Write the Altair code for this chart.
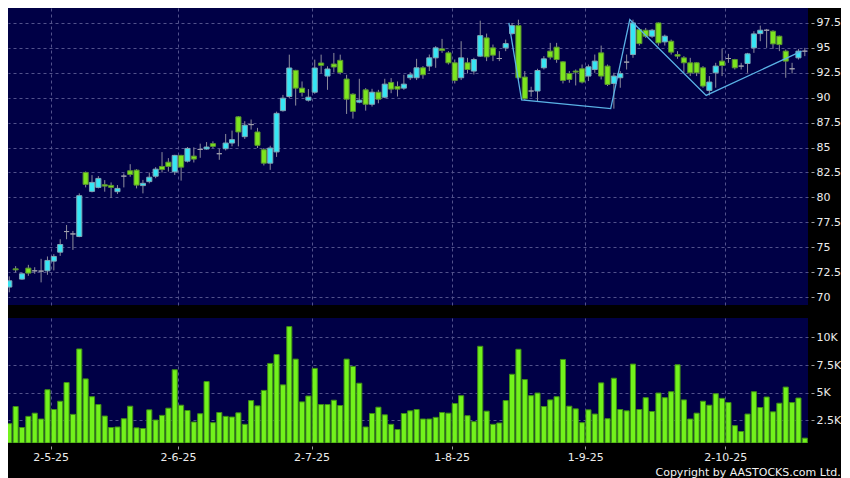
import altair as alt
import pandas as pd

# ---- data (bar index 0..125) ----
opens = [71.0, 72.83, 71.8, 72.9, 72.63, 72.6, 72.63, 73.6, 74.5, 76.57,
         76.33, 76.07, 82.5, 80.6, 81.0, 81.27, 81.2, 80.57, 82.13, 82.67,
         82.73, 81.18, 81.58, 82.12, 83.1, 83.53, 82.56, 84.21, 83.63, 84.14,
         84.81, 84.85, 85.39, 84.38, 84.88, 85.45, 88.08, 86.09, 87.3, 86.56,
         84.78, 83.43, 84.56, 88.7, 90.12, 92.74, 90.96, 89.75, 90.55, 93.48,
         92.17, 93.38, 93.75, 91.87, 90.35, 89.55, 90.79, 89.34, 90.55, 90.05,
         91.53, 91.13, 90.96, 92.0, 92.0, 93.0, 93.17, 94.0, 94.9, 94.5,
         93.5, 92.0, 93.5, 92.67, 94.17, 96.0, 95.0, 93.93, 95.0, 96.43,
         97.23, 92.07, 90.67, 90.67, 93.0, 94.67, 95.07, 93.6, 92.43, 92.67,
         92.9, 92.17, 92.83, 94.5, 93.17, 91.43, 92.0, 93.57, 94.33, 96.83,
         96.77, 96.17, 97.5, 95.6, 95.67, 94.33, 94.0, 93.5, 93.5, 93.0,
         90.73, 92.5, 93.67, 93.93, 93.83, 93.17, 93.43, 95.0, 96.43, 96.77,
         96.67, 96.17, 94.67, 92.9, 94.0, 94.67]
highs = [72.07, 73.1, 72.4, 73.23, 72.99, 73.83, 74.07, 74.3, 75.8, 77.23,
         76.63, 80.4, 82.6, 82.23, 82.13, 81.73, 81.5, 81.23, 82.4, 83.33,
         82.83, 81.75, 82.49, 83.03, 84.54, 83.94, 84.27, 84.27, 85.05, 85.02,
         85.39, 85.55, 85.62, 84.85, 86.36, 86.7, 88.15, 87.64, 87.81, 86.97,
         84.95, 85.18, 88.6, 90.28, 94.32, 92.8, 91.63, 90.86, 93.82, 94.32,
         93.15, 94.49, 94.32, 92.3, 90.45, 91.9, 90.96, 90.89, 90.79, 91.9,
         91.97, 91.63, 92.3, 92.57, 93.9, 93.17, 94.33, 95.17, 95.9, 94.67,
         93.83, 95.67, 94.0, 94.0, 97.73, 96.43, 95.33, 94.67, 95.83, 97.5,
         97.83, 92.67, 91.1, 92.9, 94.17, 95.5, 95.5, 93.67, 92.67, 92.83,
         93.33, 93.33, 94.33, 95.23, 93.33, 92.5, 92.67, 94.33, 97.83, 97.0,
         97.0, 96.9, 97.55, 96.33, 95.83, 94.67, 94.17, 94.0, 93.55, 93.17,
         92.17, 93.5, 94.9, 94.4, 93.9, 93.5, 94.5, 96.67, 97.23, 96.9,
         96.77, 96.23, 94.83, 93.5, 94.9, 95.0]
lows = [70.47, 72.47, 71.73, 72.13, 72.33, 71.47, 72.23, 72.67, 74.13, 75.8,
        74.73, 76.0, 81.0, 80.5, 80.9, 80.57, 79.97, 80.33, 81.0, 82.07,
        80.9, 80.4, 81.41, 81.92, 82.49, 82.59, 82.25, 81.68, 83.5, 83.5,
        83.97, 84.78, 84.95, 83.77, 84.71, 85.12, 85.12, 85.86, 86.8, 84.95,
        83.2, 82.76, 84.06, 88.6, 89.95, 89.21, 90.12, 89.61, 90.39, 92.47,
        90.79, 92.54, 92.34, 88.37, 87.9, 89.44, 88.7, 89.11, 89.44, 89.95,
        90.45, 90.12, 90.79, 91.77, 91.77, 91.9, 92.67, 93.0, 94.5, 93.33,
        91.43, 91.77, 92.43, 92.33, 94.1, 93.67, 93.67, 93.67, 94.67, 96.33,
        91.83, 89.77, 90.1, 89.57, 92.83, 93.83, 93.5, 91.43, 91.5, 91.23,
        91.43, 91.67, 92.5, 91.83, 91.17, 88.9, 91.0, 92.83, 94.0, 95.23,
        96.0, 96.0, 95.23, 95.23, 94.33, 93.9, 92.5, 92.17, 92.17, 91.0,
        90.23, 91.0, 92.17, 93.5, 92.83, 92.83, 92.5, 94.5, 95.67, 95.0,
        94.9, 94.67, 92.0, 92.43, 93.83, 94.17]
closes = [71.63, 72.73, 72.33, 72.4, 72.63, 72.6, 73.67, 74.07, 75.27, 76.57,
          76.33, 80.17, 81.3, 81.5, 81.9, 81.13, 81.0, 80.9, 82.13, 82.3,
          81.23, 81.41, 82.02, 82.83, 82.79, 83.1, 84.21, 83.03, 84.91, 83.84,
          84.81, 85.05, 85.12, 84.38, 85.45, 85.79, 86.56, 87.24, 87.3, 85.22,
          83.43, 84.95, 88.43, 89.95, 92.98, 90.96, 90.52, 90.05, 92.98, 93.25,
          92.88, 93.08, 92.54, 89.85, 88.63, 89.75, 89.34, 90.55, 89.85, 91.36,
          90.86, 90.86, 91.36, 92.3, 93.0, 92.3, 94.0, 95.0, 94.73, 93.5,
          91.73, 94.0, 92.83, 93.83, 96.23, 94.1, 94.27, 93.93, 95.43, 97.23,
          92.0, 89.9, 90.67, 92.73, 93.9, 94.07, 93.83, 91.73, 91.83, 92.57,
          91.57, 93.1, 93.67, 92.17, 91.33, 92.17, 92.43, 93.57, 97.5, 95.43,
          96.17, 96.77, 95.5, 96.17, 94.57, 94.17, 93.5, 92.5, 92.5, 91.17,
          91.57, 93.17, 93.23, 93.93, 93.0, 93.17, 94.4, 96.4, 96.77, 96.77,
          95.4, 95.33, 93.67, 92.9, 94.67, 94.67]
volumes_k = [2.20, 3.75, 1.85, 2.86, 3.15, 2.62, 5.27, 3.48, 4.23, 5.92,
             3.04, 8.96, 6.25, 4.64, 3.93, 2.89, 1.85, 1.90, 2.65, 3.78,
             1.82, 1.76, 3.45, 2.53, 2.95, 3.60, 7.08, 3.87, 3.39, 2.35,
             3.10, 6.01, 2.29, 3.21, 2.86, 2.80, 3.18, 2.14, 4.29, 3.81,
             5.21, 7.65, 8.45, 5.71, 10.98, 8.04, 4.17, 4.70, 7.20, 3.93,
             3.93, 4.32, 3.84, 8.04, 7.38, 5.86, 1.90, 3.12, 3.69, 3.00,
             2.14, 1.67, 3.12, 3.36, 3.48, 2.62, 2.62, 2.77, 3.21, 3.15,
             4.02, 4.73, 2.92, 2.38, 9.20, 3.33, 2.14, 2.26, 4.29, 6.67,
             8.93, 6.19, 4.73, 4.97, 3.75, 4.35, 4.64, 8.01, 3.78, 3.54,
             2.29, 3.45, 3.07, 5.89, 2.65, 6.31, 3.48, 3.36, 7.59, 3.48,
             4.55, 3.30, 4.97, 4.55, 5.09, 7.53, 4.35, 2.62, 3.15, 4.23,
             3.87, 4.91, 4.49, 4.11, 2.02, 1.49, 3.07, 5.09, 3.66, 4.61,
             3.27, 4.05, 5.51, 4.11, 4.52, 0.89]

tick_idx = [7, 27, 48, 70, 91, 113]
tick_labels = ["2-5-25", "2-6-25", "2-7-25", "1-8-25", "1-9-25", "2-10-25"]
zz_idx = [79, 81, 95, 98, 110, 125]
zz_price = [97.5, 89.77, 88.9, 97.83, 90.23, 94.67]
price_ticks = [70, 72.5, 75, 77.5, 80, 82.5, 85, 87.5, 90, 92.5, 95, 97.5]
vol_ticks = [2500, 5000, 7500, 10000]

df = pd.DataFrame({
    "i": list(range(len(opens))),
    "open": opens, "high": highs, "low": lows, "close": closes,
    "vol": [v * 1000 for v in volumes_k],
})
zz = pd.DataFrame({"i": zz_idx, "p": zz_price})

NAVY = "#000046"
GRID = "#52528c"
W = 800
xdom = [0.3, 126]
label_map = "{" + ",".join(f"'{k}':'{v}'" for k, v in zip(tick_idx, tick_labels)) + "}"

xaxis_price = alt.Axis(values=tick_idx, grid=True, labels=False, ticks=False,
                       domain=False, title=None)
xaxis_vol = alt.Axis(values=tick_idx, grid=True, labels=True, ticks=True,
                     tickSize=3, offset=3, labelPadding=2, domain=False, title=None,
                     labelExpr=f"{label_map}[toString(datum.value)]")
xs = alt.Scale(domain=xdom, nice=False, zero=False)

ys_price = alt.Scale(domain=[69.2, 99.0], nice=False, zero=False)
yaxis_price = alt.Axis(orient="right", values=price_ticks, grid=True,
                       labelExpr="toString(datum.value)",
                       tickSize=3, offset=3, labelPadding=2, domain=False, title=None)

base = alt.Chart(df).transform_calculate(
    x0="datum.i + 0.1", x1="datum.i + 0.9", xm="datum.i + 0.5",
    dir="datum.close > datum.open ? 'up' : (datum.close < datum.open ? 'down' : 'flat')",
)

wicks = base.mark_rule(color="#8c8c9c", strokeWidth=1, clip=True).encode(
    x=alt.X("xm:Q", scale=xs, axis=xaxis_price),
    y=alt.Y("low:Q", scale=ys_price, axis=yaxis_price),
    y2="high:Q",
)
bodies = base.mark_rect(strokeWidth=1, clip=True).encode(
    x=alt.X("x0:Q", scale=xs, axis=xaxis_price),
    x2="x1:Q",
    y=alt.Y("open:Q", scale=ys_price, axis=yaxis_price),
    y2="close:Q",
    color=alt.Color("dir:N", legend=None,
                    scale=alt.Scale(domain=["up", "down", "flat"],
                                    range=["#36e6f4", "#7ce41e", "#9a9aa8"])),
    stroke=alt.Stroke("dir:N", legend=None,
                      scale=alt.Scale(domain=["up", "down", "flat"],
                                      range=["#7fa6b6", "#5a9432", "#a0a0ae"])),
)
zigzag = alt.Chart(zz).mark_line(color="#5ab2e6", strokeWidth=1.3, clip=True).encode(
    x=alt.X("i:Q", scale=xs, axis=xaxis_price),
    y=alt.Y("p:Q", scale=ys_price, axis=yaxis_price),
)
price = alt.layer(wicks, bodies, zigzag).properties(width=W, height=297)

ys_vol = alt.Scale(domain=[450, 11760], nice=False, zero=False)
vol = base.mark_rect(fill="#72f21c", stroke="#3f8f16", strokeWidth=1, clip=True).encode(
    x=alt.X("x0:Q", scale=xs, axis=xaxis_vol),
    x2="x1:Q",
    y=alt.Y("vol:Q", scale=ys_vol,
            axis=alt.Axis(orient="right", values=vol_ticks, grid=True, tickSize=3,
                          offset=3, labelPadding=2, domain=False, title=None,
                          labelExpr="toString(datum.value / 1000) + 'K'")),
    y2=alt.datum(450),
).properties(width=W, height=125)

chart = alt.vconcat(price, vol, spacing=13).properties(
    padding={"left": 0, "top": 0, "right": 0, "bottom": 0},
    background="#000000",
    title=alt.TitleParams("Copyright by AASTOCKS.com Ltd.", orient="bottom",
                          anchor="end", frame="bounds", fontSize=11,
                          font="DejaVu Sans", color="#f2f2f2",
                          fontWeight="normal", offset=5),
).configure_view(
    fill=NAVY, stroke=None
).configure_axis(
    labelColor="#ececec", labelFont="DejaVu Sans", labelFontSize=11,
    tickColor="#a0a0a0", gridColor=GRID, gridDash=[3, 3], gridWidth=1,
)

chart.save("out.html", embed_options={"renderer": "svg", "actions": False})
